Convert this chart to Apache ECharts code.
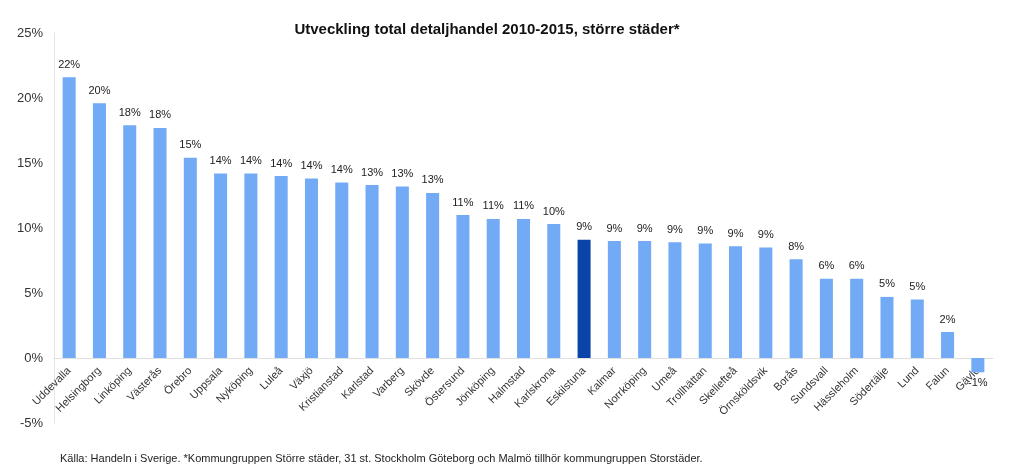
<!DOCTYPE html>
<html>
<head>
<meta charset="utf-8">
<script src="https://cdn.jsdelivr.net/npm/echarts@6/dist/echarts.min.js"></script>
<style>
html,body{margin:0;padding:0;background:#fff;}
#chart{width:1023px;height:472px;}
</style>
</head>
<body>
<div id="chart"></div>
<script>
const titleText = 'Utveckling total detaljhandel 2010-2015, större städer*';
const footnote = 'Källa: Handeln i Sverige. *Kommungruppen Större städer, 31 st. Stockholm Göteborg och Malmö tillhör kommungruppen Storstäder.';
const categories = ['Uddevalla','Helsingborg','Linköping','Västerås','Örebro','Uppsala','Nyköping','Luleå','Växjö','Kristianstad','Karlstad','Varberg','Skövde','Östersund','Jönköping','Halmstad','Karlskrona','Eskilstuna','Kalmar','Norrköping','Umeå','Trollhättan','Skellefteå','Örnsköldsvik','Borås','Sundsvall','Hässleholm','Södertälje','Lund','Falun','Gävle'];
const values = [21.6,19.6,17.9,17.7,15.4,14.2,14.2,14.0,13.8,13.5,13.3,13.2,12.7,11.0,10.7,10.7,10.3,9.1,9.0,9.0,8.9,8.8,8.6,8.5,7.6,6.1,6.1,4.7,4.5,2.0,-1.1];
const highlight = 'Eskilstuna';
const yTicks = [-5,0,5,10,15,20,25];

const chart = echarts.init(document.getElementById('chart'));
const data = values.map((v,i)=>{
  const item = {value:v};
  if (categories[i]===highlight) item.itemStyle = {color:'#0A44A8'};
  if (v<0) item.label = {position:'bottom', distance:5};
  return item;
});
chart.setOption({
  animation:false,
  textStyle:{fontFamily:'Liberation Sans, Arial, sans-serif'},
  title:[{
    text:titleText, left:482, top:17, textAlign:'center',
    textStyle:{fontSize:15, fontWeight:'bold', color:'#111', fontFamily:'Liberation Sans, Arial, sans-serif'}
  },{
    text:footnote, left:55, top:448,
    textStyle:{fontSize:11, fontWeight:'normal', color:'#222', fontFamily:'Liberation Sans, Arial, sans-serif'}
  }],
  grid:{left:54, right:30, top:33, bottom:49, containLabel:false, outerBoundsMode:'none'},
  xAxis:{
    type:'category', data:categories,
    axisLine:{show:true, onZero:true, lineStyle:{color:'#e0e0e0'}},
    axisTick:{show:false},
    axisLabel:{rotate:45, fontSize:11, color:'#333', margin:-54, interval:0}
  },
  yAxis:{
    type:'value', min:yTicks[0], max:yTicks[yTicks.length-1], interval:5,
    axisLine:{show:true, lineStyle:{color:'#e6e6e6'}},
    axisTick:{show:false},
    splitLine:{show:false},
    axisLabel:{fontSize:13, color:'#333', margin:11, formatter:v=>v+'%'}
  },
  series:[{
    type:'bar', data:data, barWidth:'43%',
    itemStyle:{color:'#72AAF6'},
    label:{show:true, position:'top', distance:7, fontSize:11, color:'#222',
      formatter:p=>Math.round(p.value)+'%'}
  }]
});
</script>
</body>
</html>
